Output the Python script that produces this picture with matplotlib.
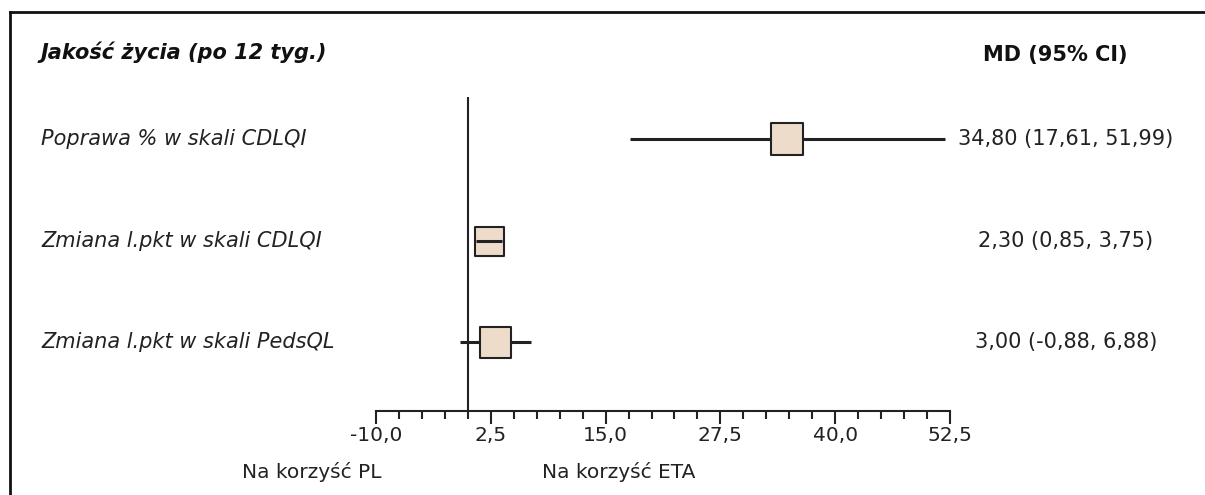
import numpy as np
import matplotlib
matplotlib.use('Agg')
import matplotlib.pyplot as plt
from matplotlib.lines import Line2D
from matplotlib.ticker import FixedLocator, MultipleLocator, FuncFormatter
import matplotlib.transforms as mtransforms


title = 'Jakość życia (po 12 tyg.)'
col_header = 'MD (95% CI)'
labels = ['Poprawa % w skali CDLQI',
          'Zmiana l.pkt w skali CDLQI',
          'Zmiana l.pkt w skali PedsQL']
md = [34.80, 2.30, 3.00]
ci_low = [17.61, 0.85, -0.88]
ci_high = [51.99, 3.75, 6.88]
box_px = [32, 29, 31]
x_ticks = [-10.0, 2.5, 15.0, 27.5, 40.0, 52.5]
left_label = 'Na korzyść PL'
right_label = 'Na korzyść ETA'

W, H = 1205, 495
fig = plt.figure(figsize=(W / 100, H / 100), dpi=100)
plt.rcParams['font.family'] = 'DejaVu Sans'
txt = '#222222'
fs = 15

# axes placed in pixels
ax_l, ax_r, ax_t, ax_b = 376, 950, 97, 411
ax = fig.add_axes([ax_l / W, 1 - ax_b / H, (ax_r - ax_l) / W, (ax_b - ax_t) / H])
ax.set_xlim(x_ticks[0], x_ticks[-1])
ax.set_ylim(3.68, 0.586)
for s in ['left', 'right', 'top']:
    ax.spines[s].set_visible(False)
ax.spines['bottom'].set_linewidth(1.5)
ax.spines['bottom'].set_color('#222222')
ax.set_yticks([])
ax.xaxis.set_major_locator(FixedLocator(x_ticks))
ax.xaxis.set_minor_locator(MultipleLocator(2.5))
ax.xaxis.set_major_formatter(FuncFormatter(lambda v, p: f'{v:.1f}'.replace('.', ',')))
ax.tick_params(axis='x', which='major', length=9, width=1.5, color='#222222',
               labelsize=14.5, labelcolor=txt, pad=2)
ax.tick_params(axis='x', which='minor', length=6, width=1.5, color='#222222')
ax.patch.set_alpha(0)

ax.axvline(0, color='#222222', lw=1.5, zorder=1)

ys = np.arange(1, len(labels) + 1)
px_per_unit = (ax_r - ax_l) / (x_ticks[-1] - x_ticks[0])
for y, m, lo, hi, b in zip(ys, md, ci_low, ci_high, box_px):
    line_on_top = (hi - lo) * px_per_unit < b
    ax.plot([lo, hi], [y, y], color='#222222', lw=2.2, solid_capstyle='butt',
            zorder=4 if line_on_top else 2)
    ax.scatter([m], [y], marker='s', s=(b * 0.72) ** 2, facecolor='#eedccb',
               edgecolor='#222222', linewidths=1.5, zorder=3)

# texts
fig.text(40 / W, 1 - 52 / H, title, fontsize=fs, fontweight='bold', fontstyle='italic',
         color='#111111', va='center', ha='left')
fig.text(1055 / W, 1 - 55 / H, col_header, fontsize=fs, fontweight='bold',
         color='#111111', va='center', ha='center')
trans = mtransforms.blended_transform_factory(fig.transFigure, ax.transData)
for y, lab, m, lo, hi in zip(ys, labels, md, ci_low, ci_high):
    fig.text(41 / W, y, lab, transform=trans, fontsize=fs, fontstyle='italic',
             color=txt, va='center', ha='left')
    s = f'{m:.2f} ({lo:.2f}, {hi:.2f})'.replace('.', ',')
    fig.text(1066 / W, y, s, transform=trans, fontsize=fs, color=txt,
             va='center', ha='center')

fig.text(242 / W, 1 - 472 / H, left_label, fontsize=14.5, color=txt, va='center', ha='left')
fig.text(542 / W, 1 - 472 / H, right_label, fontsize=14.5, color=txt, va='center', ha='left')

# frame (top and left only)
fig.add_artist(Line2D([10 / W, 1], [1 - 12 / H, 1 - 12 / H], transform=fig.transFigure,
                      color='#111111', lw=2))
fig.add_artist(Line2D([10 / W, 10 / W], [1 - 12 / H, 0], transform=fig.transFigure,
                      color='#111111', lw=2))

fig.savefig('out.png', dpi=100, facecolor='white')
